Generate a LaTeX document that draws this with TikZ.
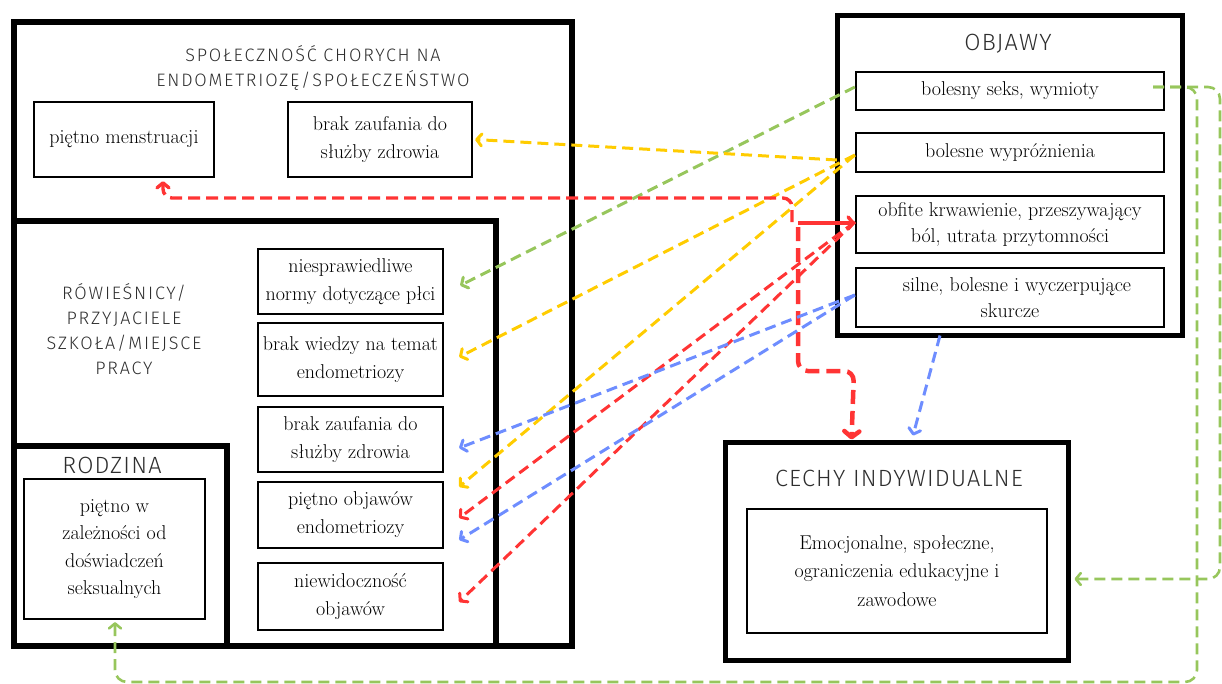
\documentclass[tikz,border=0pt]{standalone}
\usepackage{fontspec}
\usetikzlibrary{arrows.meta,calc}
\newfontfamily\capsfont[LetterSpace=10]{Fira Sans Light}
\newfontfamily\capsbig[LetterSpace=5]{Fira Sans Light}
\definecolor{lgreen}{HTML}{97C65C}
\definecolor{gold}{HTML}{FFCC00}
\definecolor{vred}{HTML}{FF3434}
\definecolor{cblue}{HTML}{6E8DFF}
\definecolor{capgray}{HTML}{2E2E2E}

\tikzset{
  frame/.style={draw=black, line width=5.5pt, inner sep=0pt},
  cell/.style={draw=black, line width=2.3pt, inner sep=0pt, align=center,
    font=\fontsize{20}{28}\selectfont},
  title/.style={inner sep=0pt, align=center, text=capgray,
    font=\capsfont\fontsize{18}{25}\selectfont},
  bigtitle/.style={inner sep=0pt, align=center, text=capgray,
    font=\capsbig\fontsize{23.5}{26}\selectfont},
  tip/.style={-{Straight Barb[length=5pt,width=12pt,round]}},
  link/.style={draw=#1, line width=3pt, dash pattern=on 11pt off 6pt, tip},
  redbold/.style={draw=vred, line width=4.5pt, dash pattern=on 14pt off 7pt,
    -{Straight Barb[length=6pt,width=15pt,round]}},
}

\begin{document}
\begin{tikzpicture}[x=1pt,y=-1pt]
\useasboundingbox (0,0) rectangle (1222,683);

% nested circles of influence
\node[frame, minimum width=558pt, minimum height=624pt] (soc)  at (293,334) {};
\node[frame, minimum width=482pt, minimum height=425pt] (peer) at (255,433.5) {};
\node[frame, minimum width=213pt, minimum height=200pt] (fam)  at (120.5,546) {};
\node[frame, line width=5pt, minimum width=345pt, minimum height=320pt] (obj) at (1009.5,175) {};
\node[frame, line width=5pt, minimum width=343pt, minimum height=218pt] (ind) at (896.5,551) {};

% headings
\node[title] (socT)  at (313,68)  {SPOŁECZNOŚĆ CHORYCH NA\\ENDOMETRIOZĘ/SPOŁECZEŃSTWO};
\node[title] (peerT) at (124,329) {RÓWIEŚNICY/\\PRZYJACIELE\\SZKOŁA/MIEJSCE\\PRACY};
\node[bigtitle] (famT) at (112,465) {RODZINA};
\node[bigtitle] (objT) at (1008,44) {OBJAWY};
\node[bigtitle] (indT) at (899,478) {CECHY INDYWIDUALNE};

% society level
\node[cell, minimum width=180pt, minimum height=75pt] (men)    at (124,139.5) {piętno menstruacji};
\node[cell, minimum width=184pt, minimum height=75pt] (trust1) at (380,139.5) {brak zaufania do\\służby zdrowia};

% peers / school / work
\node[cell, minimum width=185pt, minimum height=65pt] (norms)  at (350.5,281.5) {niesprawiedliwe\\normy dotyczące płci};
\node[cell, minimum width=185pt, minimum height=73pt] (know)   at (350.5,359.5) {brak wiedzy na temat\\endometriozy};
\node[cell, minimum width=185pt, minimum height=65pt] (trust2) at (350.5,439.5) {brak zaufania do\\służby zdrowia};
\node[cell, minimum width=185pt, minimum height=66pt] (stig)   at (350.5,515)   {piętno objawów\\endometriozy};
\node[cell, minimum width=185pt, minimum height=67pt] (invis)  at (350.5,596.5) {niewidoczność\\objawów};

% family
\node[cell, minimum width=181pt, minimum height=140pt, font=\fontsize{20}{27.3}\selectfont] (sex) at (114.5,549)
  {piętno w\\zależności od\\doświadczeń\\seksualnych};

% symptoms
\node[cell, minimum width=308pt, minimum height=38pt] (s1) at (1010,91)    {\raisebox{3pt}{bolesny seks, wymioty}};
\node[cell, minimum width=308pt, minimum height=39pt] (s2) at (1010,152.5) {\raisebox{2pt}{bolesne wypróżnienia}};
\node[cell, minimum width=308pt, minimum height=57pt, font=\fontsize{20}{25.5}\selectfont] (s3) at (1010,224.5)
  {obfite krwawienie, przeszywający\\ból, utrata przytomności};
\node[cell, minimum width=308pt, minimum height=59pt, font=\fontsize{20}{26}\selectfont] (s4) at (1010,297.5)
  {\hspace{14pt}silne, bolesne i wyczerpujące\\skurcze};

% individual
\node[cell, minimum width=300pt, minimum height=124pt, font=\fontsize{20}{28.5}\selectfont] (emo) at (897,571)
  {Emocjonalne, społeczne,\\ograniczenia edukacyjne i\\zawodowe};

% links: painful sex, vomiting
\draw[link=lgreen] ($(s1.west)+(0,-4)$) -- ($(norms.east)+(16,4)$);
\draw[link=lgreen, line width=2.6pt, rounded corners=12pt]
  ($(s1.east)+(-12,-4)$) -- (1197,87) -- (1197,682) -- (115,682) -- ($(sex.south)+(0.5,2)$);
\draw[link=lgreen, line width=2.6pt, rounded corners=12pt]
  ($(s1.east)+(-12,-4)$) -- (1220,87) -- (1220,579) -- ($(ind.east)+(4,28)$);

% links: painful bowel movements
\draw[link=gold] ($(s2.west)+(-18,7.5)$) -- ($(trust1.east)+(2,0)$);
\draw[link=gold] ($(s2.west)+(0,2.5)$) -- ($(know.east)+(15,-2.5)$);
\draw[link=gold] ($(s2.west)+(0,2.5)$) -- ($(stig.north east)+(15,6)$);

% links: heavy bleeding
\coordinate (split) at (798,223);
\draw[vred, line width=3.5pt, tip] (split) -- ($(s3.west)+(0,-1.5)$);
\draw[redbold, rounded corners=10pt] ($(split)+(0,4)$) -- (798,371) -- (854,371) -- ($(ind.north west)+(129,0)$);
\draw[link=vred, line width=3.4pt, dash pattern=on 12pt off 6pt, rounded corners=9pt]
  ($(split)+(-6,-1)$) -- (792,198) -- (163,198) -- ($(men.south)+(39,3)$);
\draw[link=vred] ($(s3.west)+(0,-2.5)$) -- ($(stig.east)+(15,3)$);
\draw[link=vred] ($(s3.west)+(0,-2.5)$) -- ($(invis.east)+(15,5.5)$);

% links: cramps
\draw[link=cblue] ($(s4.west)+(0,-2.5)$) -- ($(trust2.east)+(15,8.5)$);
\draw[link=cblue] ($(s4.west)+(0,-2.5)$) -- ($(stig.east)+(15,25)$);
\draw[link=cblue] ($(obj.south)+(-69.5,-2)$) -- ($(ind.north)+(16.5,-4)$);

\end{tikzpicture}
\end{document}
